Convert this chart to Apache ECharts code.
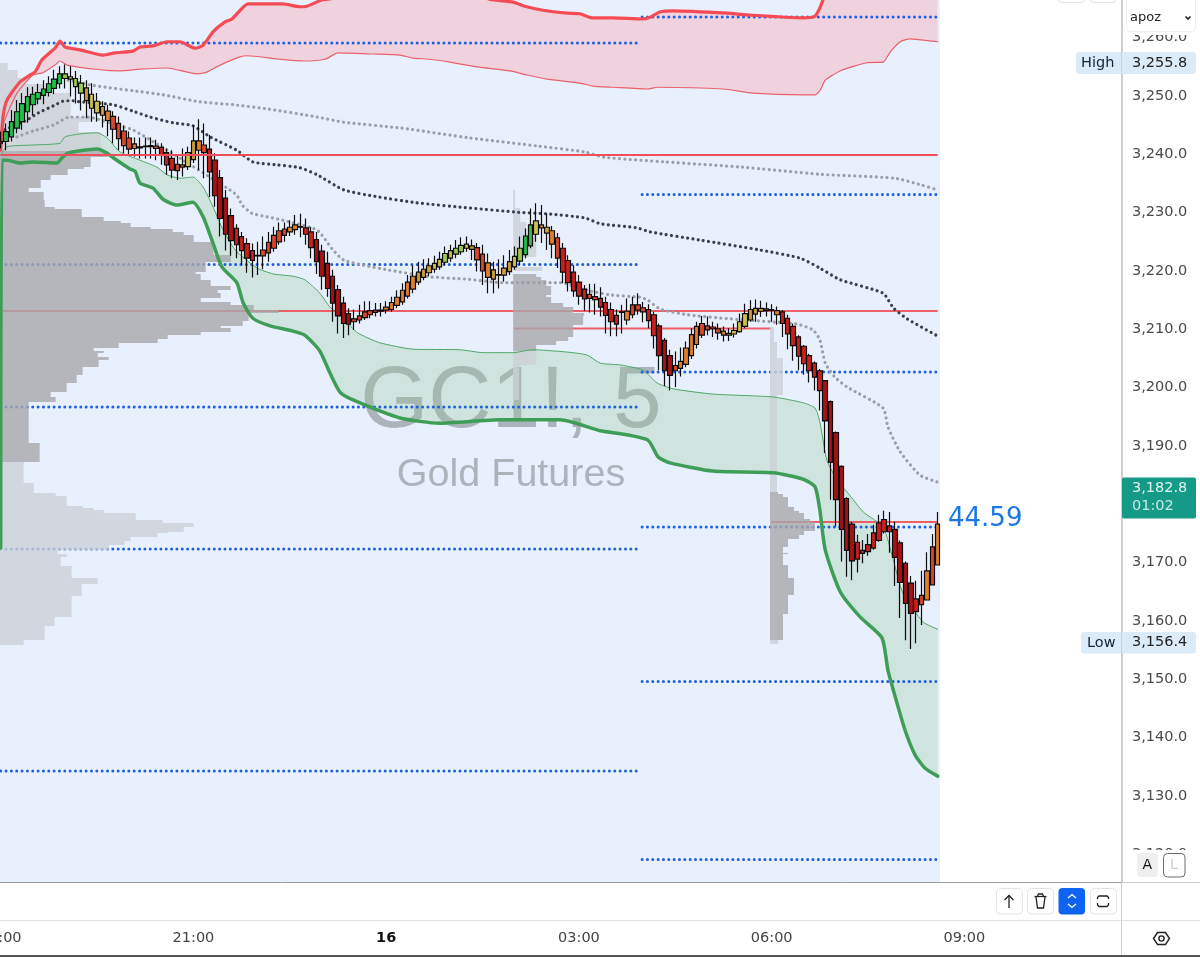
<!DOCTYPE html>
<html><head><meta charset="utf-8">
<style>html,body{margin:0;padding:0;background:#fff}#c{width:1200px;height:957px}</style>
<script src="https://cdn.jsdelivr.net/npm/echarts@6/dist/echarts.min.js"></script>
</head><body><div id="c"></div>
<script>
// ---------- candles (5-minute bars, index 0 = 18:00) ----------
const bodyUpper = [
3242.2,3243.9,3245.6,3247.3,3248.7,3249.9,3250.3,3250.6,3251.2,3252.1,
3252.9,3253.8,3253.8,3253.3,3253.0,3252.2,3251.4,3250.3,3249.1,3248.2,
3247.4,3246.5,3245.3,3244.0,3242.8,3241.8,3241.3,3241.4,3241.5,3241.4,
3241.2,3240.3,3239.3,3238.3,3238.2,3240.3,3242.3,3242.3,3241.6,3240.9,
3239.0,3236.0,3232.5,3229.5,3227.3,3225.9,3224.7,3223.5,3222.7,3223.6,
3224.9,3226.1,3226.9,3227.2,3227.5,3227.9,3227.6,3227.4,3226.7,3225.4,
3223.4,3221.3,3219.1,3216.8,3214.5,3212.7,3211.8,3212.3,3213.0,3213.2,
3213.3,3213.3,3213.8,3214.6,3215.5,3216.7,3218.1,3219.1,3219.8,3220.3,
3220.9,3221.3,3222.0,3223.0,3223.5,3223.9,3224.4,3224.6,3224.3,3224.0,
3222.9,3221.4,3220.2,3219.4,3220.5,3221.6,3222.5,3223.9,3226.0,3227.9,
3228.6,3227.9,3227.5,3226.9,3225.7,3223.9,3221.8,3219.8,3218.1,3216.9,
3216.0,3215.6,3215.3,3214.6,3213.4,3212.4,3213.0,3213.1,3214.2,3214.2,
3213.7,3213.4,3212.5,3210.6,3208.1,3205.5,3203.8,3204.5,3206.8,3209.1,
3210.5,3211.0,3210.6,3210.4,3210.1,3209.7,3209.3,3209.8,3211.3,3212.7,
3213.4,3213.6,3213.6,3213.5,3213.4,3213.2,3213.0,3211.9,3210.5,3208.7,
3207.1,3205.5,3204.2,3202.9,3201.2,3197.6,3192.3,3186.5,3181.0,3176.6,
3173.5,3172.1,3173.1,3175.1,3176.8,3177.4,3176.3,3175.7,3173.4,3169.9,
3166.5,3163.8,3164.4,3168.6,3172.7,3176.6];
const bodyLower = [
3241.9,3242.2,3243.0,3244.5,3245.6,3247.3,3248.5,3249.5,3250.1,3250.6,
3251.3,3252.1,3253.0,3252.9,3251.6,3250.5,3249.2,3247.9,3247.1,3246.7,
3245.8,3244.3,3242.7,3241.5,3240.9,3241.0,3241.1,3241.3,3241.3,3241.0,
3239.9,3238.2,3237.3,3237.2,3237.8,3237.9,3239.1,3240.7,3240.3,3237.0,
3232.9,3229.0,3226.3,3225.2,3224.5,3223.5,3222.2,3221.8,3222.6,3222.6,
3223.1,3223.9,3225.0,3226.1,3226.7,3227.1,3227.5,3226.3,3224.0,3221.6,
3219.1,3217.0,3214.5,3212.3,3211.0,3210.9,3211.3,3211.6,3212.0,3212.5,
3212.9,3213.1,3213.3,3213.4,3214.1,3214.7,3215.7,3216.9,3218.1,3218.9,
3219.7,3220.3,3220.7,3221.5,3222.2,3222.9,3223.3,3223.9,3223.7,3221.9,
3220.0,3218.9,3218.6,3219.3,3219.3,3219.9,3220.7,3221.7,3222.8,3224.3,
3226.3,3227.4,3226.5,3224.6,3222.2,3219.8,3218.0,3216.6,3215.7,3215.2,
3215.3,3215.1,3213.8,3212.4,3211.3,3210.9,3212.9,3211.6,3212.5,3213.3,
3213.0,3211.5,3208.9,3205.5,3202.9,3202.1,3202.9,3203.3,3204.0,3205.5,
3207.4,3209.0,3209.9,3210.1,3209.4,3209.0,3209.0,3209.2,3209.6,3210.5,
3211.6,3212.6,3213.1,3213.2,3213.3,3212.5,3211.0,3209.2,3207.2,3205.4,
3204.1,3202.9,3201.8,3199.5,3194.3,3187.2,3180.8,3175.7,3172.1,3170.3,
3170.6,3171.6,3171.9,3172.5,3173.8,3175.3,3175.3,3170.9,3166.6,3163.0,
3161.3,3161.6,3162.8,3163.6,3166.2,3169.6];
const wickHigh = [
3243.9,3245.3,3247.6,3249.3,3250.5,3251.5,3251.6,3252.1,3252.7,3253.4,
3254.5,3255.1,3255.4,3255.1,3254.3,3253.6,3252.7,3252.2,3250.5,3249.1,
3248.5,3247.4,3246.5,3245.0,3243.9,3242.9,3242.9,3242.9,3242.9,3242.5,
3241.9,3241.0,3240.7,3239.9,3241.0,3241.3,3245.0,3246.0,3245.3,3243.3,
3240.2,3237.3,3233.9,3230.7,3228.0,3226.7,3225.6,3224.7,3225.0,3225.9,
3226.7,3227.6,3228.3,3228.3,3228.7,3229.6,3229.8,3229.0,3227.6,3226.7,
3224.5,3223.3,3220.2,3217.6,3215.6,3213.6,3213.4,3214.2,3214.8,3214.8,
3214.5,3214.5,3214.8,3215.6,3216.7,3217.9,3219.3,3221.0,3221.6,3222.0,
3222.2,3222.6,3223.3,3224.2,3224.5,3225.3,3225.8,3225.9,3225.4,3224.8,
3224.5,3223.0,3221.6,3222.0,3222.7,3223.6,3224.2,3225.9,3227.3,3230.7,
3231.6,3231.3,3229.9,3227.7,3226.5,3224.8,3222.7,3221.0,3219.3,3217.6,
3217.8,3217.8,3217.2,3215.6,3214.6,3213.4,3214.2,3215.3,3215.6,3216.2,
3214.7,3214.3,3213.0,3211.0,3208.5,3206.5,3206.2,3206.9,3207.9,3210.2,
3211.3,3212.3,3212.2,3211.3,3211.0,3210.5,3210.2,3211.0,3212.7,3214.4,
3215.0,3215.1,3214.9,3214.6,3214.3,3213.9,3213.3,3212.5,3211.0,3209.0,
3207.3,3205.8,3204.5,3203.2,3201.3,3197.8,3192.5,3186.7,3181.2,3177.0,
3174.8,3173.9,3174.9,3176.5,3178.2,3178.9,3178.7,3177.0,3173.8,3170.2,
3167.7,3166.9,3168.6,3171.8,3174.9,3178.7];
const wickLow = [
3241.0,3240.7,3242.2,3243.6,3244.2,3245.4,3246.7,3248.6,3248.6,3249.9,
3250.3,3251.3,3251.3,3249.9,3248.7,3247.5,3246.2,3245.6,3245.6,3244.6,
3243.1,3241.9,3240.7,3240.2,3239.9,3239.6,3239.3,3239.3,3239.3,3239.0,
3238.2,3236.5,3235.9,3235.6,3236.2,3237.3,3238.5,3237.3,3235.9,3232.7,
3231.0,3225.9,3223.5,3222.6,3222.2,3221.0,3219.7,3218.9,3219.3,3220.3,
3221.6,3223.3,3224.5,3225.0,3226.0,3226.2,3225.8,3224.5,3222.2,3219.5,
3216.8,3215.6,3211.3,3209.3,3208.5,3209.0,3209.9,3211.0,3211.6,3211.9,
3212.2,3212.2,3212.7,3213.0,3213.6,3214.2,3215.3,3216.2,3217.6,3218.4,
3219.1,3219.7,3220.2,3221.0,3221.6,3222.2,3222.8,3223.3,3221.9,3219.9,
3217.6,3216.2,3216.2,3217.0,3218.2,3219.3,3220.2,3221.0,3222.2,3223.9,
3225.0,3224.8,3223.6,3222.2,3220.5,3217.9,3216.5,3215.6,3214.2,3213.2,
3212.9,3212.5,3212.2,3209.3,3208.8,3208.8,3209.3,3210.8,3211.9,3212.5,
3211.2,3210.2,3206.7,3203.0,3200.3,3199.5,3200.1,3201.9,3203.5,3204.9,
3206.7,3208.5,3209.0,3208.7,3208.2,3207.9,3208.0,3208.6,3209.4,3210.2,
3211.3,3211.3,3212.1,3212.2,3211.3,3210.8,3208.7,3206.6,3204.6,3203.0,
3202.2,3200.9,3199.5,3196.1,3188.8,3180.8,3176.2,3170.2,3167.6,3167.0,
3168.3,3169.9,3171.2,3172.2,3173.6,3175.0,3171.7,3166.0,3160.5,3156.7,
3155.2,3156.2,3159.3,3163.5,3166.1,3169.5];
const barTones = ("rggggggggg"+"gglyllayya"+"ottttotttt"+"rrrtoyaotr"+"ddddrrrrrt"+"ttttootrrd"+
  "ddddddtttt"+"ttooooooaa"+"ayylyllyat"+"toaaaaylgm"+"yaaotrrrrr"+"ttrrrrtott"+
  "trrdddtooo"+"ottttoayyy"+"aaatoorrrr"+"rrrrdddddd"+"rrrrrrrddd"+"drtoto").split("");
const tonePalette = {g:"#22c24a",m:"#45b84f",l:"#9ac94b",y:"#cfc14f",a:"#cf9f36",o:"#e0802c",t:"#d9482a",r:"#c9201e",d:"#a81216"};

// ---------- band and average curves: [bar index, price] ----------
const redUpper = [[0,3240.7],[.43,3246.4],[1.18,3249.3],[3.6,3252.4],[5.47,3253.6],[6.41,3254.1],[7.71,3256.2],[10.14,3258.2],[11.08,3259.4],[12.01,3258.4],[14.81,3257.9],[19.11,3257.0],[21.35,3257.4],[24.71,3257.7],[26.02,3258.4],[28.45,3258.6],[31.06,3259.3],[33.5,3259.3],[36.29,3258.2],[37.8,3258.7],[39.65,3261.0],[41.9,3262.7],[43.2,3263.2],[46.19,3265.8],[46.9,3265.8],[52.7,3265.8],[55.9,3265.3],[57.2,3265.4],[60.2,3266.5],[74.6,3267.8],[87.65,3267.5],[91.8,3266.5],[95.7,3266.1],[97.9,3265.4],[101.3,3264.7],[105.8,3264.2],[108.2,3264.1],[110.4,3263.4],[114.4,3263.4],[119.8,3263.2],[121.3,3263.5],[123.1,3264.4],[125.6,3264.6],[135.7,3264.2],[139.4,3263.9],[149.9,3263.4],[152.1,3263.7],[153,3265.1],[153.6,3266.5],[156.4,3271.6],[175,3273.3]];
const redLower = [[0,3240.7],[.43,3245.0],[3.05,3250.5],[6.03,3253.6],[7.9,3254.0],[10.14,3255.3],[11.08,3256.0],[12.38,3255.3],[18.55,3254.5],[22.3,3254.3],[26,3254.6],[31.06,3254.8],[36.66,3253.8],[38.5,3254.1],[41,3255.3],[44.7,3256.7],[46,3256.9],[52.2,3256.3],[56.5,3256.0],[60.6,3256.3],[63,3257.4],[69.5,3257.2],[74.6,3257.0],[77,3256.5],[80.2,3256.3],[83.9,3255.8],[89,3255.0],[95.1,3254.3],[98.3,3253.6],[102,3252.9],[108.2,3252.2],[110.6,3251.7],[114.4,3251.5],[120.7,3251.2],[122.8,3251.5],[134.9,3251.2],[140.5,3250.5],[149.9,3250.2],[152.1,3250.2],[153,3250.9],[154,3252.7],[156.8,3254.3],[161.8,3255.7],[164.8,3255.8],[166.1,3257.5],[168,3259.3],[169.8,3259.8],[174.1,3259.4],[175,3259.3]];
const greenUpper = [[0,3239.9],[1.18,3241.3],[6.03,3241.6],[11.08,3241.9],[12,3243.0],[14.8,3243.5],[18,3243.7],[19.9,3242.8],[22.3,3240.4],[26,3239.0],[29.2,3237.8],[31.06,3236.5],[33.5,3235.9],[35.9,3236.1],[37.8,3234.4],[39.65,3231.0],[41.3,3227.5],[43.8,3223.6],[47.9,3220.5],[50.9,3219.5],[54.6,3219.1],[56.8,3218.5],[59.6,3216.2],[61.5,3213.8],[63.4,3212.5],[66.5,3209.5],[70.8,3207.7],[77,3206.6],[85.8,3206.5],[90.1,3206.0],[95.7,3206.0],[99.4,3206.5],[105.8,3206.1],[109.5,3205.6],[112,3204.2],[115.7,3203.9],[120,3203.0],[122.6,3200.8],[125.6,3199.8],[133,3198.9],[144.3,3198.4],[149.9,3197.4],[152.1,3196.5],[153,3194.1],[154.3,3187.6],[156.2,3184.2],[158.1,3182.1],[161.1,3178.7],[164.8,3176.1],[166.7,3170.5],[168.5,3164.8],[172.3,3159.8],[175,3158.6]];
const greenLower = [[0,3172.5],[.24,3239.0],[1.18,3239.0],[3.6,3238.5],[6.03,3238.7],[10.5,3238.5],[11.45,3239.4],[12.57,3240.2],[14.8,3240.6],[18,3240.9],[19.9,3240.2],[21.35,3239.2],[24.15,3237.5],[25.1,3237.1],[26,3235.1],[28.45,3234.2],[30.3,3232.3],[32.9,3231.3],[35.9,3231.8],[37.8,3229.3],[39.65,3224.8],[41.3,3220.7],[44.1,3218.0],[45.3,3214.5],[47.1,3211.9],[50.3,3210.6],[54.6,3209.7],[56.8,3209.0],[59.6,3206.3],[61.5,3202.5],[63.4,3199.2],[65.8,3197.9],[74.6,3194.8],[82,3193.9],[93.3,3194.5],[104.5,3194.5],[112,3192.6],[115.7,3192.1],[120.9,3191.0],[122.8,3188.1],[125,3187.1],[133,3185.7],[144.3,3185.4],[149.9,3184.3],[152.1,3183.0],[153,3179.0],[154,3172.2],[156.8,3165.0],[160.5,3160.7],[164.6,3157.1],[165.7,3151.6],[166.7,3148.2],[168.9,3141.3],[170.8,3137.0],[172.6,3134.8],[175,3133.4]];
const darkDots = [[.8,3244.2],[4.9,3245.9],[7,3247.1],[9.8,3248.3],[11.6,3249.1],[13.3,3249.2],[14.8,3249.0],[21,3248.5],[24.7,3247.4],[27.9,3246.4],[32.2,3245.4],[35.9,3244.9],[39.1,3243.0],[44.1,3240.7],[47.1,3238.7],[51.6,3238.2],[55.9,3237.7],[59.1,3236.5],[64.1,3233.9],[70.5,3232.7],[77.6,3231.7],[87.7,3230.8],[96.2,3230.1],[102,3229.8],[109.1,3229.1],[112,3228.1],[118.8,3227.4],[121.3,3226.7],[130.6,3225.3],[141.8,3223.6],[149.3,3222.2],[153,3220.5],[156.8,3218.5],[164.8,3216.2],[166.7,3213.7],[169.3,3211.8],[174.9,3208.9]];
const greyUpperDots = [[12.6,3252.7],[16.7,3251.9],[20.4,3251.4],[24.7,3250.9],[30.3,3250.2],[37.2,3249.0],[43.4,3248.5],[49.7,3247.8],[59.1,3246.4],[64.1,3245.5],[74.8,3244.5],[87.7,3242.8],[100.5,3241.4],[109.1,3240.4],[112.7,3239.5],[124.1,3238.7],[138.5,3237.8],[152.7,3236.6],[167,3235.9],[172.1,3234.7],[175,3233.9]];
const greyLowerDots = [[3.05,3243.0],[6.03,3244.0],[9.8,3245.0],[12.9,3246.4],[16.1,3246.4],[22.8,3244.7],[24.7,3244.2],[31.1,3240.7],[42.3,3234.2],[44.1,3233.0],[45.1,3231.3],[46.9,3229.9],[49.7,3229.3],[52.7,3228.7],[59.1,3227.0],[61.9,3223.8],[64,3221.9],[67.7,3221.0],[72.2,3220.2],[80.2,3219.0],[87.1,3218.6],[93.8,3218.0],[104.5,3218.0],[109.5,3216.7],[113.8,3215.9],[119.4,3215.5],[120.9,3215.0],[123.1,3213.5],[128.2,3212.5],[136.2,3211.8],[143.7,3211.3],[148.7,3210.9],[151.7,3209.9],[153,3208.2],[154,3204.2],[155.8,3201.8],[158.1,3200.1],[164.8,3196.5],[165.7,3193.3],[168,3189.0],[171.7,3185.0],[175,3183.8]];

// ---------- horizontal levels: [first bar, last bar, price] ----------
const blueLevels = [[0,119.4,3259.09],[119.8,175,3263.54],[119.8,175,3233.11],[0,119.4,3221.11],[119.8,175,3202.68],[0,119.4,3196.68],[119.8,175,3176.11],[0,119.4,3172.34],[119.8,175,3149.63],[0,119.4,3134.28],[119.8,175,3119.11]];
const redLevels = [[0,175,3213.14],[95.9,143.9,3210.14],[143.9,175,3176.97]];
const redTopLevel = [[0,175,3239.9]];

// ---------- session volume profiles: price edges and volume per row ----------
const profA_upEdges = [3255.66,3254.46,3253.09,3252.06,3250.52,3246.40,3245.54,3243.83,3240.57];
const profA_upVol = [7,17,25,43,70,90,78,100];
const profA_midEdges = [3240.57,3239.54,3237.83,3237.49,3236.46,3235.60,3234.23,3233.54,3232.17,3230.97,3230.63,3229.26,3228.57,3228.23,3227.54,3227.20,3226.69,3226.17,3224.97,3222.74,3221.54,3219.83,3219.49,3218.46,3217.43,3216.74,3216.23,3215.37,3214.69,3214.17,3213.31,3212.80,3211.43,3210.57,3210.23,3209.54,3209.03,3208.34,3207.66,3206.80,3206.29,3205.94,3205.26,3204.74,3203.54,3202.17,3200.80,3199.26,3198.40,3197.54,3190.51,3187.25];
const profA_midVol = [107,90,83,67,50,40,28,43,44,54,81,103,120,130,150,172,183,193,213,230,205,195,200,210,230,217,220,200,230,253,278,248,242,220,230,200,167,157,118,93,103,97,108,98,82,76,66,50,55,28,39];
const profA_lowEdges = [3187.25,3183.66,3181.94,3181.43,3179.71,3179.37,3179.03,3178.51,3177.31,3176.80,3176.11,3175.25,3175.08,3174.40,3173.71,3173.03,3172.17,3171.48,3170.97,3169.43,3167.37,3166.34,3164.28,3160.68,3159.14,3156.74,3155.88];
const profA_lowVol = [23,33,55,66,82,93,103,135,162,193,183,167,157,130,124,108,57,66,60,71,97,81,71,54,44,23];
const profB_upEdges = [3233.89,3230.80,3228.40,3226.51,3222.40,3220.69,3220.00];
const profB_upVol = [1,6,12,22,3,28];
const profB_midEdges = [3219.49,3218.97,3218.46,3217.43,3215.89,3215.54,3214.51,3213.83,3212.80,3212.28,3210.74,3210.06,3208.68,3207.98,3207.31,3206.29];
const profB_midVol = [22,27,32,37,32,37,49,59,70,69,59,59,54,42,22];
const profB_lowEdges = [3206.29,3203.88,3197.88];
const profB_lowVol = [22,5];
const profC_upEdges = [3210.40,3207.83,3205.08,3198.74,3182.11];
const profC_upVol = [3,6,12,6];
const profC_midEdges = [3182.11,3181.77,3181.25,3179.54,3178.85,3178.51,3177.48,3176.97,3175.43,3174.74,3174.05,3172.68,3171.65,3171.48,3169.60,3167.37,3164.45,3161.20,3156.74];
const profC_midVol = [7,12,17,23,28,33,39,44,33,28,17,12,17,12,17,23,17,12];
const profC_lowEdges = [3156.74,3156.05];
const profC_lowVol = [7];
const profileStarts = {A:0, B:95.9, C:143.87};

// ---------- axes ----------
const priceTicks = [3260,3250,3240,3230,3220,3210,3200,3190,3170,3160,3150,3140,3130,3120];
const timeTicks = [0,36,72,108,144,180];
const timeLabels = ["18:00","21:00","16","03:00","06:00","09:00"];

const FONT = "'DejaVu Sans'";
const BARS_PER_VOL = 1/5.354;
const GREY_DARK = "rgba(168,168,171,.8)", GREY_LIGHT = "rgba(204,208,214,.8)";

const rows = [];
function addRows(start, edges, vols, fill){
  vols.forEach((v,i)=>rows.push([start, edges[i], edges[i+1], v, fill]));
}
addRows(profileStarts.A, profA_upEdges, profA_upVol, 0);
addRows(profileStarts.A, profA_midEdges, profA_midVol, 1);
addRows(profileStarts.A, profA_lowEdges, profA_lowVol, 0);
addRows(profileStarts.B, profB_upEdges, profB_upVol, 0);
addRows(profileStarts.B, profB_midEdges, profB_midVol, 1);
addRows(profileStarts.B, profB_lowEdges, profB_lowVol, 0);
addRows(profileStarts.C, profC_upEdges, profC_upVol, 0);
addRows(profileStarts.C, profC_midEdges, profC_midVol, 1);
addRows(profileStarts.C, profC_lowEdges, profC_lowVol, 0);

const candleData = bodyUpper.map((u,i)=>({
  value:[i, bodyLower[i], u, wickLow[i], wickHigh[i]],
  itemStyle:{color:tonePalette[barTones[i]], color0:tonePalette[barTones[i]], borderColor:"#0c0c0c", borderColor0:"#0c0c0c"}
}));

function bandSeries(up, low, fill){
  return {type:"custom", z:2, silent:true, clip:true, data:[[0,3200]],
    encode:{x:0,y:1},
    renderItem(p, api){
      const pts = up.concat(low.slice().reverse()).map(d=>api.coord(d));
      return {type:"polygon", shape:{points:pts}, style:{fill}};
    }};
}
function curve(data,color,width,z){
  return {type:"line",data,z,showSymbol:false,silent:true,smooth:.2,lineStyle:{color,width,cap:"round"}};
}
function dots(data,color,size,z){
  return {type:"line",data,z,showSymbol:false,silent:true,smooth:.2,
    lineStyle:{color,width:size,type:[.01,5.35],cap:"round"}};
}
function levels(list,color,width,z,dashed,opacity){
  return list.map(l=>({type:"line",z,showSymbol:false,silent:true,
    data:[[l[0],l[2]],[l[1],l[2]]],
    lineStyle:dashed?{color,width,type:[.01,5.33],cap:"round"}:{color,width,opacity:opacity||1}}));
}

const seg = (pts,stroke,lineWidth)=>({type:"polyline",z:102,silent:true,shape:{points:pts},style:{fill:null,stroke:stroke,lineWidth:lineWidth||1.3}});
const box = (x,y,w,h,fill,stroke,r)=>({type:"rect",z:100,silent:true,shape:{x,y,width:w,height:h,r:r||0},style:{fill:fill,stroke:stroke||null,lineWidth:1}});
const txt = (x,y,text,size,color,extra)=>({type:"text",z:102,silent:true,x,y,style:Object.assign({text,fill:color,font:size+"px "+FONT,verticalAlign:"middle"},extra||{})});

const graphicEls = [
  {type:"rect",z:0,silent:true,shape:{x:0,y:0,width:940,height:882},style:{fill:"#e9f0fd"}},
  {type:"text",z:1,silent:true,x:511,y:403,style:{text:"GC1!, 5",fill:"#adb3bb",font:"87.5px 'Liberation Sans'",align:"center",verticalAlign:"middle"}},
  {type:"text",z:1,silent:true,x:511,y:475,style:{text:"Gold Futures",fill:"#adb3bb",font:"39.5px 'Liberation Sans'",align:"center",verticalAlign:"middle"}},
  // price-panel covers
  box(1124,0,76,35,"#fff"),
  box(1124,850,76,33,"#fff"),
  box(1058.5,-6,26,8.5,"#fff","#e3e3e3",3),
  box(1090.5,-6,25,8.5,"#fff","#e3e3e3",3),
  box(1126.5,-6,69,37.5,"#fff","#efefef",4),
  txt(1130,18,"apoz",13,"#222"),
  seg([[1185.5,16.5],[1188,19],[1190.5,16.5]],"#222",1.6),
  box(1076,52,120,22,"#dcebf8",null,3),
  txt(1081,63,"High",14.5,"#13233a"),
  txt(1132,63,"3,255.8",14.5,"#222"),
  box(1081,632,115,21.5,"#dcebf8",null,3),
  txt(1087,643,"Low",14.5,"#13233a"),
  txt(1132,642.5,"3,156.4",14.5,"#222"),
  box(1122,477.5,74,41,"#149a86",null,2),
  txt(1132,488,"3,182.8",14.5,"#e3f4f1"),
  txt(1132,506,"01:02",14.5,"#c9e9e3"),
  txt(948,519,"44.59",26,"#1a78e6"),
  box(1137,853,21,24,"#efefef",null,4),
  txt(1142.5,865.5,"A",14,"#111"),
  box(1163.5,853.5,21.5,23.5,"#fff","#6d6d6d",4),
  txt(1170,865.5,"L",14,"#cfcfcf"),
  // bottom toolbar
  box(996.5,888.5,26,25.5,"#fff","#e3e3e3",4),
  box(1027.5,888.5,26,25.5,"#fff","#e3e3e3",4),
  box(1058.5,888,26.5,26.5,"#0d64f2",null,4),
  box(1090.5,888.5,26,25.5,"#fff","#e3e3e3",4),
  seg([[1009,908],[1009,895.5]],"#222"),
  seg([[1004.5,900],[1009,895.5],[1013.5,900]],"#222"),
  seg([[1034.5,896.5],[1046.5,896.5]],"#222"),
  seg([[1037.5,896],[1038.5,894],[1042.5,894],[1043.5,896]],"#222"),
  seg([[1036,897],[1037.5,908],[1043.5,908],[1045,897]],"#222"),
  seg([[1068,898],[1072,894.5],[1076,898]],"#fff"),
  seg([[1068,904],[1072,907.5],[1076,904]],"#fff"),
  seg([[1097.5,899],[1097.5,897.5],[1099,896],[1107,896],[1108.5,897.5],[1108.5,899]],"#222"),
  seg([[1097.5,903],[1097.5,905],[1099,906.5],[1107,906.5],[1108.5,905],[1108.5,903]],"#222"),
  {type:"polygon",z:102,silent:true,shape:{points:[[1153.5,938.5],[1157.5,932.5],[1165.5,932.5],[1169.5,938.5],[1165.5,944.5],[1157.5,944.5]]},style:{fill:null,stroke:"#222",lineWidth:1.4}},
  {type:"circle",z:102,silent:true,shape:{cx:1161.5,cy:938.5,r:2.6},style:{fill:null,stroke:"#222",lineWidth:1.4}},
  // frame lines
  seg([[1121.5,0],[1121.5,957]],"#cfcfcf",1),
  seg([[1122,882.5],[1200,882.5]],"#cfcfcf",1),
  seg([[0,920.5],[1200,920.5]],"#e2e2e2",1),
  {type:"rect",z:103,silent:true,shape:{x:0,y:955,width:1200,height:2},style:{fill:"#555"}}
];

const series = [
  bandSeries(redUpper, redLower, "rgba(255,154,164,.35)"),
  bandSeries(greenUpper, greenLower, "rgba(150,200,156,.3)"),
  ...levels(blueLevels,"#1f5fe0",3,3,true),
  ...levels(redLevels,"#ef4f5a",2,3,false,.9),
  {type:"custom",z:4,silent:true,clip:true,data:rows,
    dimensions:["start","top","bottom","vol","tone"],
    encode:{x:0,y:1},
    renderItem(p, api){
      const r = rows[p.dataIndex];
      const a = api.coord([r[0], r[1]]), b = api.coord([r[0]+r[3]*BARS_PER_VOL, r[2]]);
      const y0 = Math.round(a[1]), y1 = Math.round(b[1]);
      return {type:"rect",shape:{x:a[0]-1,y:y0,width:b[0]-a[0]+1,height:y1-y0},style:{fill:r[4]?GREY_DARK:GREY_LIGHT}};
    }},
  curve(redLower,"#e8616b",1.2,5),
  curve(greenUpper,"#4fa767",1,5),
  curve(redUpper,"#f54b55",3.2,5),
  curve(greenLower,"#3e9e57",3.5,5),
  dots(greyUpperDots,"#9c9ea8",3.2,5),
  dots(greyLowerDots,"#9c9ea8",3.2,5),
  dots(darkDots,"#3d404c",3.2,5),
  {type:"candlestick",z:6,silent:true,barWidth:5,data:candleData,
    encode:{x:0,y:[1,2,3,4]},
    itemStyle:{borderWidth:1.2,borderColor:"#0c0c0c",borderColor0:"#0c0c0c",borderColorDoji:"#0c0c0c"}},
  ...levels(redTopLevel,"#ef4f5a",2,7,false)
];

const chart = echarts.init(document.getElementById("c"),null,{renderer:"canvas"});
chart.setOption({
  animation:false,
  backgroundColor:"#fff",
  legend:{show:false},tooltip:{show:false},
  grid:{left:0,top:0,width:1122,height:882,containLabel:false,outerBoundsMode:"none"},
  xAxis:{type:"value",min:-.13,max:209.43,position:"bottom",splitLine:{show:false},
    axisLine:{show:true,onZero:false,lineStyle:{color:"#9a9a9a",width:1}},
    axisTick:{show:false},
    axisLabel:{show:true,customValues:timeTicks,margin:49,
      hideOverlap:false,showMinLabel:true,showMaxLabel:true,
      fontFamily:FONT,fontSize:14.5,color:"#444",
      formatter:v=>{const s=timeLabels[timeTicks.indexOf(v)]; return s==="16"?"{b|16}":s;},
      rich:{b:{fontFamily:FONT,fontSize:14.5,fontWeight:"bold",color:"#111"}}}},
  yAxis:{type:"value",position:"right",min:3115.25,max:3266.46,scale:true,splitLine:{show:false},
    axisLine:{show:true,onZero:false,lineStyle:{color:"#cfcfcf"}},
    axisTick:{show:false},
    axisLabel:{customValues:priceTicks,margin:10,fontFamily:FONT,fontSize:14.5,color:"#4a4a4a",
      hideOverlap:false,
      formatter:v=>v.toLocaleString("en-US",{minimumFractionDigits:1,maximumFractionDigits:1})}},
  graphic:{elements:graphicEls},
  series
});
</script></body></html>
